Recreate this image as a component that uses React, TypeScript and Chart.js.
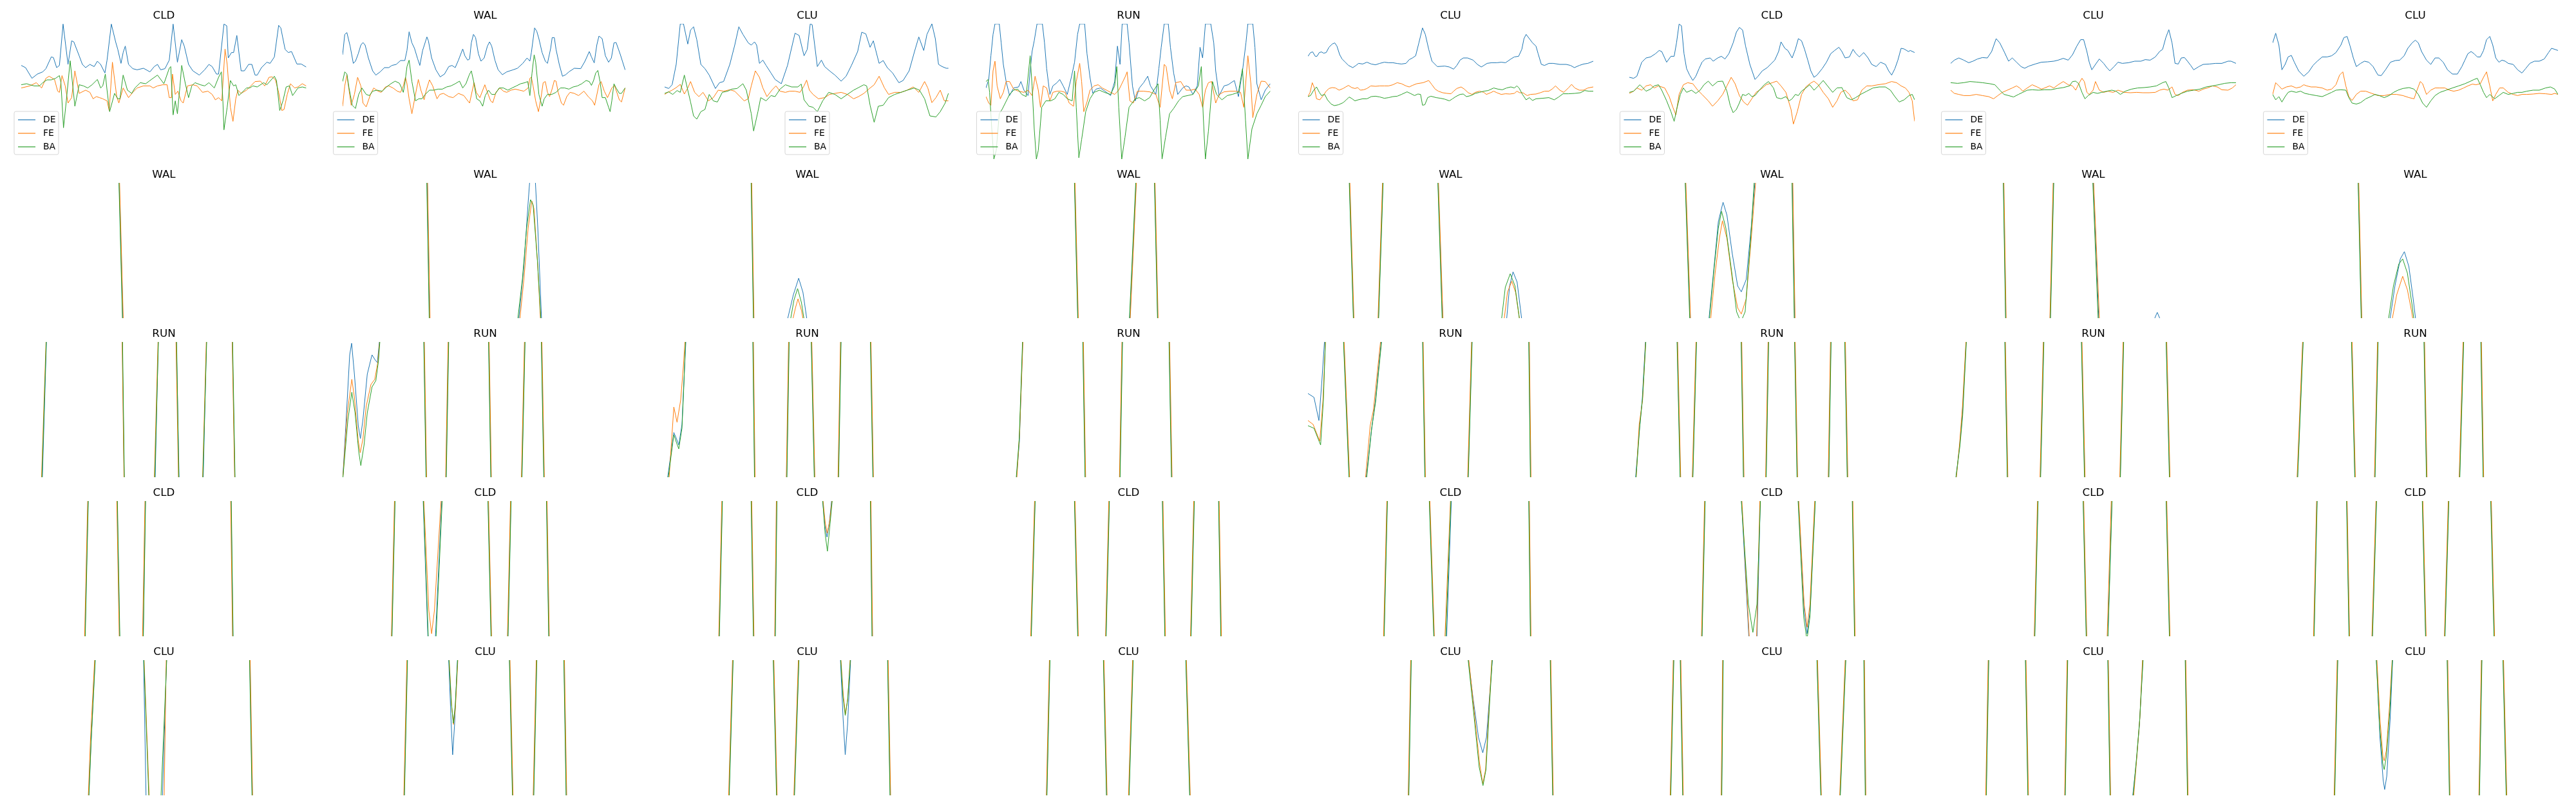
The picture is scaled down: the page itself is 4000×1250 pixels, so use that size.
import React, { useEffect, useRef } from "react";
import { Chart, registerables } from "chart.js";
Chart.register(...registerables);

type Pts = number[][];

const seriesNames = ["DE", "FE", "BA"];
const seriesColors = ["#1f77b4", "#ff7f0e", "#2ca02c"];
const topTitles = ["CLD", "WAL", "CLU", "RUN", "CLU", "CLD", "CLU", "CLU"];
const walTitles = ["WAL", "WAL", "WAL", "WAL", "WAL", "WAL", "WAL", "WAL"];
const runTitles = ["RUN", "RUN", "RUN", "RUN", "RUN", "RUN", "RUN", "RUN"];
const cldTitles = ["CLD", "CLD", "CLD", "CLD", "CLD", "CLD", "CLD", "CLD"];
const cluTitles = ["CLU", "CLU", "CLU", "CLU", "CLU", "CLU", "CLU", "CLU"];

const X_MIN = 0;
const X_MAX = 133;
const Y_MIN = 0;
const Y_MAX = 105;

// ---------------- Row 1 ----------------
const r0c0DE: Pts = [[0,72.7],[2,71],[5,62.7],[7.5,66],[10,67.7],[11.5,70.2],[14,79.3],[15,78.8],[16.5,71],[17.8,72.7],[19.5,104.8],[21.8,73.5],[23.5,91.8],[24.5,91],[27,80.2],[28.5,73.5],[30,71],[32,73.5],[34,71.8],[35.5,76],[37,73.5],[39,66.8],[40,76.8],[42,104.8],[44,91],[45,85.2],[46.5,74.3],[47.5,82.7],[48.5,87.7],[50,73.5],[52,70.2],[54,69.3],[57,70.5],[60,67.7],[62,71.8],[63.5,73.5],[65,69.3],[67,70.2],[69,76.8],[70.8,104.8],[72.8,75.2],[74.8,92.7],[76,87.7],[78,73.5],[80,68.5],[83,65.2],[85.5,69.3],[87.5,73.5],[89,71.8],[91,66],[92,66],[94.5,104.8],[95.8,103.5],[96.5,78.5],[98,82.7],[99,82.7],[100.5,96],[102.5,68.5],[104,68.5],[106,73.5],[107.5,73.5],[109,65.2],[110,65.2],[112,71],[114.5,75.2],[116,74.3],[118,79.3],[120,103.8],[121,101.8],[123,85.2],[124.5,82.7],[126,83.5],[128.5,73.8],[130.5,73.8],[132.8,71.5]];
const r0c0FE: Pts = [[0,55.2],[4,56.8],[7,59.3],[9.5,55.2],[11.5,62.7],[13,64.3],[15.5,61.8],[17,52.7],[17.8,51.8],[19,64.8],[20.5,56.8],[21.8,43.5],[23.5,47.7],[25,68.5],[27,51],[30,53.5],[32,51.8],[33.5,46.8],[35,48.5],[36.5,47.7],[38,46.8],[40,45.2],[41,37.7],[42.5,75.2],[44.5,48.5],[45.5,43.5],[47.5,55.2],[50,47.7],[52,51.8],[54,55.2],[57,56.8],[60,56.8],[61.5,55.2],[63.5,56.8],[66,57.7],[68,57.7],[69,47.7],[70,47.7],[70.5,66],[71.8,50.2],[73,52.7],[74.5,45.2],[75.5,43.5],[77.5,56.8],[80,57.7],[82,56.8],[84.5,51.8],[87,52.7],[89,50.2],[90.5,46],[92,47.7],[93.5,45.2],[95,85.5],[96,73.5],[97.5,40.2],[98.7,29.3],[100,46.8],[101,53.5],[102.5,51],[105,53.5],[107,56.8],[109,60.2],[111.5,60.5],[113.5,56.8],[115.5,63.5],[117,63.8],[118.5,61.5],[120,51.8],[121.5,37.7],[122.5,38.5],[124,50.2],[125.5,58.5],[127.5,55.2],[129,56],[131,58.5],[132.8,56.8]];
const r0c0BA: Pts = [[0,57.7],[2.5,58.5],[4,57.7],[6,56.8],[8.5,56.8],[10,59.3],[12,61.5],[14,61.5],[16,62.7],[17.8,64.8],[18.5,59.3],[19.7,24.3],[21,45.2],[22.8,76.3],[25,41],[27,57.7],[29,56.8],[31,55.2],[33,57.7],[35.5,61.8],[37,55.2],[38,56.8],[39.2,66],[40,53.5],[41.2,36.8],[43.5,51],[45,46.8],[46,46.8],[47.5,65.2],[49.5,53.5],[51.5,51],[53,55.2],[55.5,59.3],[58,58.5],[60,61],[63.5,65.2],[66.5,58.5],[69,70.5],[69.7,71.8],[70.8,34.3],[71.8,45.2],[72.8,35.2],[74,56.8],[74.8,72.7],[76.5,58.5],[78,47.7],[79.5,56.8],[81,59.3],[83.5,57.7],[85.5,56.8],[87.5,59.3],[90,55.2],[92,63.5],[93.3,67.7],[94,45.2],[94.5,22.7],[96,40.2],[97.5,61],[99,56.8],[100,57.7],[101.5,49.3],[103.5,52.7],[105,55.2],[106.5,55.2],[108,56.8],[110,56],[113,59.3],[114.5,57.7],[118,64.3],[119,61],[120.5,37.7],[122,45.2],[123.5,56],[125,56.8],[126.5,49.3],[129,55.2],[131,56],[132.8,55.2]];

const r0c1DE: Pts = [[0,81],[1,96.8],[2,98.2],[3.5,87.7],[5,74.3],[6,76],[7.3,81.8],[8.5,88.5],[9.5,90.5],[10.5,88.5],[12,78.5],[14,68.5],[15.5,65.2],[17.5,67.7],[19.5,71],[21.5,71],[23,72.7],[25,73.5],[27,76.5],[29,76.5],[30,84.3],[31,98.8],[32.3,90.2],[33.5,86],[35,77.7],[36,72.7],[37.3,84.3],[39.3,94.8],[40,91.8],[41.5,78.5],[43.5,69.3],[45.5,63.8],[47.5,66],[49.5,71.8],[51,72.7],[52.5,71],[54,76.8],[56,85.5],[57,80.2],[58.3,76.8],[59.2,77.7],[60,90.2],[61,96.8],[62,94.3],[63.3,81.8],[64.5,76],[66,78.5],[67.5,87.7],[68.5,91],[69.5,87.7],[71,76.8],[72.5,69.3],[74.5,65.5],[76.5,67.7],[79.5,69.3],[81.5,70.5],[84,74.3],[86,78.5],[87.3,76],[88,82.7],[89.5,101.8],[90.5,99.3],[91.5,93.5],[93,82.7],[94.5,76],[95.5,74.3],[97,86],[97.7,94.3],[98.7,94.3],[99.5,85.2],[101,73.5],[102.5,64.3],[104,65.5],[105.5,67.7],[108,70.5],[111,70.2],[113,76],[115,83.5],[116,79.3],[117.3,74.7],[118.5,88.5],[119.5,95.5],[121,93.5],[122.5,80.2],[124,75.2],[125.3,78.5],[126.5,90.2],[127.5,90.5],[129.5,81],[131.7,69.3]];
const r0c1FE: Pts = [[0,41],[1,56.8],[2,65.2],[3,53.5],[4,41.8],[5.5,50.2],[7,63.5],[8.5,56.8],[9.5,43.5],[11,40.5],[13,50.2],[14.5,55.2],[16.5,52.7],[18,51.8],[20,56],[21.5,56.8],[23.5,55.2],[25.5,52.7],[27,51.8],[28.3,56.8],[29.3,63.5],[30,58.5],[31,46.8],[32.3,35.2],[33.5,46],[35.3,61.8],[36.5,53.5],[38,46],[39,53.5],[40.5,61.5],[42,56.8],[44,46.8],[45.3,50.2],[47,51],[49.5,48.5],[51.5,47.7],[54,51],[56.5,49.3],[58,46],[59.2,43.5],[60.5,53.5],[61.3,59.3],[62.3,51.8],[64,47.7],[66.3,57.7],[67.5,51.8],[69,45.2],[70,43.8],[71.5,51.8],[73.3,55.2],[75,52.7],[76.5,51.8],[78.5,53.5],[80.5,54.3],[82.5,53.5],[84.5,52.7],[86.5,55.2],[87.3,62.7],[88,63.5],[88.8,56.8],[90,45.2],[91.3,36.8],[92.5,47.7],[93.5,59.3],[94.5,60.2],[95.5,51.8],[96.5,48.5],[97.5,53.5],[98.7,61],[99.5,60.5],[100.5,51.8],[102,43.5],[103,41.8],[104.5,48.5],[106,51.8],[108,51],[110,49.3],[112.5,52.7],[114.5,48.5],[116.5,45.2],[117.5,41.8],[119.5,57.7],[120.5,60.2],[122,52.7],[123.5,47.7],[125.5,55.2],[126.7,57.2],[128,51],[129,46],[130,44.3],[131.7,55.2]];
const r0c1BA: Pts = [[0,60.2],[1,67.7],[2,66],[3,55.2],[4.5,41.8],[6,39.3],[7.5,50.2],[9,55.2],[11,50.2],[12.5,49.3],[14,52.7],[16,53.5],[18.5,52.7],[20.5,56],[22.5,58.5],[24.5,60.5],[26.5,58.8],[27.5,55.2],[28.3,51.8],[29,58.5],[30,71.8],[31,76.8],[32.3,60.2],[34,45.2],[35.5,46.8],[37,46.8],[38.5,50.2],[40.5,53.5],[42.5,53.5],[44.5,54.3],[46.5,54.3],[48.5,56],[50.5,56.8],[52.5,58.5],[54.5,60.5],[56,55.2],[57.5,58.5],[59,65.2],[60,68.5],[61,61],[62.5,46.8],[64,45.2],[65.3,41],[66.5,49.3],[68,53.5],[69.5,50.2],[71,50.2],[73,55.2],[75,55.2],[77,53.5],[79,55.2],[81,56.8],[83,58.5],[85,59.3],[86.3,60.2],[87.3,49.3],[88.3,66.8],[89.3,81],[90,75.2],[91.5,50.2],[93,41],[94,46.8],[95.5,50.2],[97.5,50.2],[99.5,51.8],[101.5,55.2],[103.5,55.2],[105.5,54.3],[107.5,56],[109.5,56.8],[111.5,58.5],[113.5,61],[115,60.2],[116,57.2],[117,61],[118,66.8],[119,68.8],[120,60.2],[121,47.7],[122.5,47.7],[124,40.2],[124.7,36.8],[125.5,45.2],[126.5,58.5],[127.5,55.2],[129,51],[130,51],[131.7,55.2]];

const r0c2DE: Pts = [[0,56],[1.9,54.8],[3.5,57.7],[5.4,73.5],[7.3,105],[8.8,105],[10.8,89.3],[12.1,100.2],[13.5,102.7],[15,92.7],[16.9,73.5],[18.8,70.2],[20.8,65.2],[23.7,54.8],[25.6,59.3],[27.5,60.2],[30.4,73.5],[32.7,88.5],[34.6,102.7],[36.5,96.8],[39,90.2],[40.4,88.5],[41.9,91],[42.9,88.5],[44.2,74.3],[45.8,76.8],[47.3,72.7],[49.6,66.8],[51.5,61.8],[54.4,58.5],[57.3,72.7],[58.8,83.5],[60.8,97.7],[62.7,96],[65,80.2],[66.5,85.2],[67.9,105],[68.8,104.3],[71.2,71.8],[73.1,76.8],[74.6,71.8],[76.9,68.5],[79.4,65.2],[82.3,60.5],[84.6,64.3],[87.1,72.7],[90,83.5],[91.9,98.5],[93.8,97.2],[95.8,86.8],[97.3,91.8],[100,74.3],[101.9,76.5],[103.8,71],[106.3,66.8],[109.2,59.3],[111.2,61],[114,68.5],[116.5,83.5],[118.5,94.8],[120.8,84.3],[122.3,96.8],[124.6,105],[126.2,93.5],[127.7,73.5],[129.4,71.8],[131.3,70.5],[132.3,70.5]];
const r0c2FE: Pts = [[0,50.2],[1.5,51.8],[3.5,53.5],[5.4,55.5],[7.3,58],[9.2,50.5],[10.8,55.2],[12.1,60.2],[14,51.8],[16,48.5],[17.9,51.8],[20.4,45.2],[22.7,47.7],[25,53.5],[27.5,52.7],[30.4,53.8],[32.7,52.7],[35.2,48.5],[37.1,45.2],[39,46.8],[40.4,56.8],[42.3,68.5],[44.2,63.5],[45.8,55.2],[47.7,48.5],[50,53.5],[51.9,56.8],[53.8,52.7],[56.3,51.8],[58.3,52.7],[60.8,52.7],[63.1,51.8],[65,56.8],[66.2,61.3],[67.5,53.5],[69.2,50.2],[71.7,46.8],[74.6,47.7],[76.9,50.2],[79.4,51],[82.3,51.8],[85.2,50.2],[88.1,46.8],[90.4,48.5],[92.9,51],[95.8,55.2],[97.7,57.7],[100,64.3],[102.5,55.2],[104.4,50.2],[107.3,51.8],[110.2,51.8],[113.1,53.5],[115.9,56],[118.5,51.8],[121.2,60.2],[122.7,55.2],[124.6,43.8],[126.5,47.7],[128.5,53.5],[130.4,45.2],[132.3,45.2]];
const r0c2BA: Pts = [[0,51],[1.9,52.2],[3.8,50.2],[5.8,53.2],[7.3,51.8],[9.2,65.2],[10.8,53.5],[12.1,44.3],[13.5,33.5],[15,31],[16.9,36.8],[18.8,38.5],[20.8,50.2],[22.7,45.2],[24.6,44.3],[26.9,51.8],[29.4,52.7],[31.3,54.3],[33.8,54.8],[36.5,58.5],[38.1,53.5],[40.4,35.2],[41.5,21.8],[43.5,36.8],[44.8,47.7],[47.3,45.2],[49.6,49.3],[51.5,48.5],[53.8,54.3],[56.3,57.7],[59.2,56],[62.1,56],[63.7,58.2],[65,46],[67.3,41],[69.2,40.2],[71.2,36.8],[73.7,45.2],[76.5,51.8],[79.4,50.2],[82.3,46.8],[85.2,50.2],[88.1,53.5],[90.4,55.5],[92.9,57.7],[94.2,56.8],[95.8,41.8],[97.7,28.5],[99.6,41],[101.9,41.8],[104.4,47.7],[107.3,50.2],[110.2,51.8],[113.1,53.5],[116.5,55.2],[118.8,53.5],[121.2,46.8],[123.7,33.5],[126.5,32.7],[128.5,36.8],[130.8,43.5],[132.3,51]];

const r0c3DE: Pts = [[0,55.2],[1.3,61.8],[2.3,80.2],[3.3,96.8],[4.2,105],[6.2,105],[7.1,90.2],[8.1,73.5],[9.4,60.2],[11,49.3],[12.9,55.2],[15.2,56],[16.3,60.2],[17.7,53.5],[19.6,49.3],[20.6,68.5],[21.5,83.5],[22.5,91.8],[23.8,105],[26.3,105],[27.3,90.2],[28.3,70.2],[29.8,50.2],[31.2,56.8],[33.1,59.3],[34.4,61.8],[36,56.8],[37.9,50.2],[39.8,63.5],[41.3,75.2],[42.7,96.8],[43.7,105],[46,105],[47.1,81.8],[48.5,63.5],[49.8,51],[51.3,54.3],[53.3,55.2],[56.2,51.8],[58.1,49.3],[60,60.2],[61.3,87.7],[62.5,73.5],[63.5,105],[65.8,105],[66.7,90.2],[68.3,56.8],[69.6,45.2],[71.5,55.2],[73.5,59.3],[75.4,64.3],[76.7,56.8],[79.2,50.2],[80.6,70.2],[81.7,86.8],[83.1,105],[85,105],[86,86.8],[87.5,66.8],[89.4,50.2],[91.7,55.2],[93.3,56.8],[94.6,56],[96.5,50.2],[98.5,56.8],[99.8,86.8],[101,78.5],[102.3,105],[104.8,105],[106.2,90.2],[107.1,68.5],[108.7,49.3],[111,56.8],[112.9,57.7],[115.8,61],[117.7,48.5],[119.6,68.5],[121.2,90.2],[122.1,105],[124.4,105],[125.4,86.8],[126.3,58.5],[128.3,46],[130.2,53.5],[132.5,58.5]];
const r0c3FE: Pts = [[0,48.5],[1.3,43.5],[2.3,41.8],[3.3,68.5],[4.2,76],[5.2,56.8],[6.7,46.8],[8.1,51.8],[9.4,60.2],[11,60.2],[12.9,54.3],[15.2,52.7],[17.7,51.8],[19.6,53.5],[21.5,49.3],[22.9,64.3],[24.4,53.5],[25.4,40.2],[26.7,56.8],[28.3,55.2],[29.8,45.2],[31.2,51.8],[33.1,52.7],[35,52.7],[36.9,51.8],[38.8,43.5],[40.8,41],[42.1,60.2],[43.7,74.3],[44.6,60.2],[45.6,36.8],[47.1,44.3],[48.5,53.5],[50.4,56.8],[52.3,57.7],[54.2,55.2],[56.2,53.5],[58.1,51.8],[60,50.2],[61.9,53.5],[64.8,63.5],[65.8,67.7],[67.1,45.2],[68.7,43.5],[70.6,52.7],[73.5,52.7],[76.3,52.2],[79.2,50.2],[81.2,40.2],[83.1,73.5],[84,71.8],[85.6,53.5],[86.9,46.8],[88.5,59.3],[90.8,60.2],[93.3,53.5],[95.6,53.5],[97.5,54.3],[99.4,50.2],[101,40.2],[102.3,53.5],[103.7,59.3],[105.2,60.2],[107.1,43.5],[108.7,50.2],[111,52.2],[113.8,52.7],[116.7,52.7],[118.7,51.8],[120.2,40.2],[122.1,80.2],[123.5,58.5],[124.4,32.2],[126.3,50.2],[128.3,60.5],[130.2,60.2],[132.5,55.2]];
const r0c3BA: Pts = [[0,60.2],[1,61.8],[1.7,51.8],[2.7,23.5],[3.7,0],[4.8,6.8],[6.2,35.2],[7.5,38.5],[9,43.5],[11,50.2],[12.9,53.5],[14.8,54.3],[16.7,50.2],[18.7,48.5],[20.6,80.2],[21.5,56.8],[22.5,23.5],[23.5,0],[24.4,6.8],[26,40.2],[27.9,45.2],[30.2,45.2],[32.1,46.8],[34,51.8],[36,50.2],[37.9,46.8],[40.2,45.2],[41.3,68.5],[42.1,40.2],[43.3,1],[44.6,15.2],[46.5,36.8],[48.5,46.8],[50.4,51.8],[52.9,53.5],[55.2,51.8],[58.1,50.2],[60,56.8],[61,71.8],[61.9,40.2],[63.3,0],[64.8,16.8],[66.7,40.2],[69.6,46.8],[71.5,47.7],[74,45.2],[76.3,47.7],[78.3,53.5],[80.2,58.5],[81.2,30.2],[82.1,0],[83.7,16.8],[85.6,35.2],[87.5,39.3],[89.8,45.2],[91.7,48.5],[94,49.3],[96.5,50.2],[99,56.8],[100.4,71.8],[101.3,33.5],[102.3,0],[103.7,21.8],[105.6,60.2],[107.5,50.2],[110,46],[112.5,49.3],[114.8,50.2],[117.7,51.8],[119.6,70.2],[121,30.2],[122.1,0],[124,23.5],[126.3,35.2],[128.3,41.8],[130.2,48.5],[132.5,52.7]];

const r0c4DE: Pts = [[0,79.8],[1.2,82.7],[2.2,83.2],[3.4,79.8],[4.2,79.8],[5.3,82.7],[6.3,83.2],[7.3,82.2],[8.5,82.7],[9.8,86.8],[11.3,89.3],[12.5,90.2],[13.5,87.7],[14.8,81],[15.9,77.7],[17.4,75.2],[18.9,72.7],[20.9,71],[22.4,72.7],[23.6,74.3],[25.5,73.8],[27.5,75.2],[29.5,73.8],[31.5,73.2],[33.5,74.3],[35.6,75.2],[37.6,74.8],[39.6,74.8],[41.6,74.2],[43.6,73.8],[45.7,74.3],[47.2,77.2],[48.7,78.5],[50.2,80.2],[51.7,90.2],[53.4,101.8],[54.7,96.8],[56.3,85.2],[57.8,76],[60.3,71.8],[63.8,72.2],[65.9,71.5],[67.9,69.8],[69.4,72.7],[70.9,76.8],[72.4,78.5],[74.4,78.5],[77,76.8],[79,73.5],[80.8,71.5],[82,72.7],[83.5,74.3],[85.6,74.8],[88.1,74.8],[90.1,75.2],[92.1,74.8],[94.6,77.7],[96.2,79.3],[98.2,79.8],[99.7,85.2],[100.7,93.5],[101.7,96.8],[103.2,93.5],[104.7,90.2],[106.3,87.7],[107.3,81.8],[108.8,73.5],[110.3,72.7],[112.3,74.3],[114.3,74.3],[117.4,73.5],[120.4,73.5],[122.4,72.7],[124.2,71],[126.5,72.7],[128.5,73.8],[130.5,74.3],[133,76]];
const r0c4FE: Pts = [[0,48.5],[1,51.8],[2,59.3],[3,55.2],[4,46.8],[5.5,46],[7.1,49.3],[8.5,52.7],[9.8,54.8],[11.3,55.5],[12.8,55.2],[14.5,53.5],[16.4,54.8],[17.6,56],[18.9,57.2],[20.4,55.5],[21.9,54.8],[23.2,55.5],[24.4,53.5],[26,53.8],[27.5,54.8],[29.3,56.8],[31.5,56.5],[33.5,56.8],[35.6,56.8],[37.6,56.8],[39.6,57.7],[41.6,59.3],[43.6,58.5],[45.7,56.8],[47.2,56],[48.7,57.2],[50.7,58.5],[53.7,59.3],[56.3,61],[57.8,57.7],[59.3,54.3],[60.8,52.7],[62.8,51.5],[64.8,51],[66.7,50.7],[67.9,52.7],[69.4,54.8],[71.4,56],[72.9,54.3],[74.7,51.5],[76.5,50.2],[78,51.8],[80,52.7],[82,51.8],[83.2,50.2],[85.1,51.5],[86.6,52.7],[88.1,51.5],[90.1,50.2],[92.1,50.7],[94.1,50.5],[96.2,51],[97.4,52.7],[98.7,51.5],[100.2,51.5],[102.2,49.3],[103.7,50.2],[106.3,50.5],[108.3,51.5],[110.3,52.7],[112.3,52.7],[113.8,54.3],[115.4,56.8],[117.4,53.5],[119.2,51.8],[121.4,55.2],[122.9,58],[124.4,55.2],[126.5,53.5],[128.5,53.5],[130.5,55.2],[133,56]];
const r0c4BA: Pts = [[0,48.5],[1.2,49.3],[2.7,53.5],[4,56],[5.3,51.8],[6.3,49.3],[7.8,50.2],[9.1,46],[10.8,42.7],[12.3,41.5],[14.3,42.2],[16.4,43.8],[17.9,46],[19.2,48.2],[20.6,46.8],[21.9,45.2],[23.4,46],[25.5,46.8],[27.5,46.8],[29.5,48.5],[31.5,48.8],[33.5,48.2],[35.6,47.2],[37.6,47.7],[39.6,48.5],[41.6,48.8],[43.6,50.2],[46.2,52.2],[47.7,51],[49.7,49.3],[51.2,50.5],[52.5,50.2],[53.4,41.8],[54.5,42.2],[55.8,47.7],[57.3,48.8],[59.8,47.7],[61.8,47.2],[63.8,46.5],[65.9,45.2],[67.4,46.8],[68.9,48.5],[70.9,50.2],[72.4,50.5],[73.9,48.5],[76,49.3],[78,51],[80,51.8],[82,52.7],[84,53.2],[86.6,55.2],[88.6,54.3],[90.6,53.8],[92.6,55.2],[94.6,56],[96.2,55.2],[97.4,56.8],[98.4,55.2],[100,50.2],[101.7,46],[103.2,47.7],[104.7,45.5],[106.3,46.8],[109.3,47.2],[112.3,47.7],[114.8,46],[116.9,48.2],[118.9,50.7],[121.4,50.7],[124.4,51],[127,51.5],[129,53.2],[131,52.7],[133,52.7]];

const r0c5DE: Pts = [[0,63.5],[2,62.7],[3.5,64.3],[5.8,75.2],[7.8,78.5],[9.9,79.3],[12.2,81.8],[13.9,84.3],[15.1,83.5],[17.4,75.2],[19.4,79.8],[20.9,79.8],[22,90.2],[23.2,104.8],[24.3,103.5],[25.5,81.8],[26.7,70.2],[28.1,65.2],[29.6,61],[31,64.3],[32.5,70.2],[33.9,75.2],[35.4,77.7],[37.7,78.5],[39.1,76],[41.2,78.5],[42.9,79.8],[44.6,77.7],[46.4,81.8],[48.4,90.2],[49.9,98.5],[51.3,102.2],[52.8,100.2],[54.2,87.7],[56.2,73.5],[58.6,61.8],[60,64.3],[62,68.5],[64.3,71],[65.8,73.5],[67.8,76.8],[69.6,83.5],[70.7,91],[72.5,86],[73.9,84.3],[75.9,78.5],[77.4,85.2],[78.8,93.5],[80.3,91.8],[81.7,85.2],[83.2,76.8],[84.6,68.5],[86.1,63.5],[87.5,65.2],[89.9,70.2],[91.9,75.2],[93.9,81.8],[95.7,84.3],[97.7,86.8],[99.1,83.5],[100.6,78.5],[102.6,79.3],[104.3,85.2],[105.5,82.2],[107.2,79.3],[109.3,82.7],[111.3,78.5],[113,73.5],[115.1,71.8],[117.1,75.2],[119.4,73.5],[120.9,68.5],[122.3,65.2],[123.8,70.2],[125.2,76.8],[126.7,86],[128.1,85.5],[130.1,83.5],[131,84.3],[133,82.7]];
const r0c5FE: Pts = [[0,51],[2,52.7],[3.5,55.2],[5.8,53.5],[7.8,56.8],[9.9,57.7],[11.6,55.2],[13.6,56.8],[16.5,55.2],[18.6,48.5],[20.3,40.2],[21.7,34.3],[23.2,50.2],[25.2,57.7],[27.2,59.3],[29.6,58.5],[31.9,53.5],[33.9,50.2],[36.8,45.2],[38.8,41],[41.2,45.2],[43.5,50.2],[45.5,56.8],[47.5,63.5],[49.3,58.5],[51.3,49.3],[53.3,44.3],[55.1,41.8],[57.1,46.8],[59.1,51.8],[61.4,54.3],[63.8,57.7],[66.7,59.3],[68.7,60.5],[70.7,56.8],[73,51.8],[75.4,38.5],[76.5,27.2],[78.3,36.8],[80.3,50.2],[82.3,56],[84.1,58.5],[86.1,60.5],[88.1,57.7],[90.4,51.8],[92.8,46.8],[94.8,40.2],[96.8,45.2],[98.6,51.8],[100.6,53.5],[102.6,50.2],[104.3,45.2],[106.4,46],[108.4,53.5],[110.7,56.8],[113,56.8],[115.9,57.7],[119.4,58.5],[122.3,60.2],[124.6,59.3],[126.7,56.8],[128.7,55.2],[130.4,51.8],[131.9,45.2],[133,29.3]];
const r0c5BA: Pts = [[0,51.8],[2,52.7],[3.5,55.2],[4.9,57.7],[6.4,55.2],[7.8,52.7],[9.9,54.3],[11.6,56.8],[13.6,57.7],[15.1,53.5],[17.4,45.2],[19.4,36.8],[20.9,29.3],[22.3,40.2],[23.8,50.2],[25.2,55.2],[26.7,51.8],[29,53.5],[31,51],[33,53.5],[34.8,57.7],[36.8,60.5],[38.8,56.8],[41.2,60.2],[43.5,60.5],[45.5,52.7],[47,41.8],[48.4,36],[49.9,38.5],[51.3,43.5],[52.8,50.2],[54.2,49.3],[55.7,51],[57.1,48.5],[58.6,49.3],[60.6,53.5],[62.9,57.7],[64.9,60.2],[67.2,55.2],[68.7,47.7],[70.7,46.8],[73,48.5],[74.5,45.2],[75.9,46.8],[77.4,50.2],[78.8,49.3],[80.3,52.7],[82.3,55.2],[84.1,57.7],[86.1,53.5],[88.1,56.8],[90.4,61],[92.8,56],[94.8,51.8],[96.8,55.2],[99.1,55.5],[101.4,47.7],[103.5,46],[105.5,47.7],[107.8,50.2],[110.7,52.7],[113.6,55.2],[116.5,56],[119.4,56],[121.7,53.5],[123.8,48.5],[125.8,44.3],[128.1,46],[130.4,49.3],[131.9,50.2],[133,46]];

const r0c6DE: Pts = [[0,74.3],[1.7,76.8],[3.8,78.5],[6.1,76.8],[8.4,74.8],[10.4,76],[12.5,77.7],[14.8,78.8],[17.1,78.5],[19.1,83.5],[21.2,93.5],[22.9,90.2],[24.9,83.5],[27,76],[28.7,78.5],[30.7,75.2],[32.8,71.8],[34.5,70.5],[36.5,72.2],[39.4,73.8],[42.3,75.2],[45.2,75.5],[48.1,76],[50.1,76.8],[52.5,78.2],[54.8,76.8],[56.8,81],[58.8,87.7],[60.6,92.7],[62,92.7],[63.5,83.5],[64.6,75.2],[65.8,69.3],[67.5,73.5],[69.3,77.7],[71.3,74.3],[72.8,71],[74.2,68.5],[76.2,71.8],[78,75.2],[80,74.3],[82.9,74.8],[85.8,76],[88.7,76],[90.7,77.2],[93,76.8],[95.4,79.3],[97.4,83.5],[98.8,85.2],[100.3,94.3],[101.7,100.5],[103.2,90.2],[104.6,74.3],[106.1,73.8],[107.5,78.5],[109,78.8],[110.4,76],[111.9,72.7],[113.3,69.3],[115.7,71.8],[117.7,73.5],[120.6,73.8],[123.5,74.3],[126.4,74.3],[129.3,76],[130.7,76],[133,74.3]];
const r0c6FE: Pts = [[0,53.5],[1.7,51],[3.8,50.2],[6.1,49.3],[9,49.3],[11.9,50.2],[14.8,49.3],[17.7,48.5],[20,46.8],[22,49.3],[24.1,51.8],[26.4,53.5],[28.7,55.2],[30.7,56.8],[32.2,55.2],[33.6,52.7],[35.7,55.2],[38,57.7],[40.3,56],[42.3,54.3],[43.8,55.2],[46.1,56.8],[48.1,55.2],[50.1,57.7],[52.5,60.2],[54.8,57.7],[56.8,56.8],[58.3,53.5],[59.7,58.5],[61.2,62.7],[62.3,60.2],[63.5,51.8],[64.6,50.2],[66.4,53.5],[67.5,60.2],[69.3,53.5],[71.3,51.8],[73.3,52.7],[75.7,51.8],[78,53.5],[80.9,51.8],[83.8,51.5],[86.7,51.8],[89.6,51.5],[92.5,51.5],[95.4,51.8],[97.4,53.5],[99.4,54.3],[101.2,53.5],[103.2,56],[104.6,50.2],[106.1,49.3],[108.1,51.8],[110.4,53.5],[113.3,53.8],[115.7,52.7],[117.7,54.3],[119.7,55.2],[122,56.8],[124.3,56],[126.4,53.8],[129.3,53.5],[131.3,55.2],[133,57.7]];
const r0c6BA: Pts = [[0,59.3],[3.2,58.8],[6.1,59.3],[9,60.2],[11.9,59.8],[14.8,59.3],[18.3,58.5],[20.6,57.7],[22.9,53.5],[24.9,50.2],[27,49.3],[29.3,48.2],[31.6,50.2],[33.6,51.8],[35.7,53.5],[38,53.8],[40.9,53.5],[43.8,53.8],[46.7,53.8],[49.6,54.8],[52.5,55.5],[55.4,56.8],[56.8,60.2],[58.3,60.5],[59.7,58.5],[61.2,51.8],[62.6,46.8],[64.1,49.3],[66.4,51.8],[68.4,51],[70.4,51.8],[72.8,52.7],[75.1,53.5],[77.1,52.7],[79.1,50.2],[81.4,52.7],[84.3,54.3],[87.2,55.2],[90.1,55.5],[93,56],[95.9,56.8],[98.8,59.3],[100.3,60.2],[101.7,55.2],[103.2,47.7],[105.2,49.3],[107.5,51],[110.4,52.7],[113.3,53.5],[116.2,54.3],[119.1,56],[122,56.8],[124.9,57.7],[127.8,58.8],[130.7,59.3],[133,59.3]];

const r0c7DE: Pts = [[0,90.2],[1.4,97.7],[2.9,88.5],[4.3,69.3],[5.8,73.5],[7.2,79.3],[8.7,80.5],[10.1,75.2],[12.1,68.5],[14.5,64.3],[16.8,67.7],[18.8,72.7],[20.8,76],[23.1,79.3],[25.4,79.3],[27.5,80.2],[29.5,82.7],[31.8,88.5],[33.2,94.3],[34.7,95.2],[36.1,87.7],[37.6,78.5],[39,71.8],[41,74.3],[42.8,76],[44.8,75.2],[46.8,71.8],[49.1,65.2],[50.6,64.8],[52.6,69.3],[54.9,75.2],[57.2,76.5],[59.2,76.8],[61.3,80.2],[63,86],[65,90.2],[66.5,92.3],[67.9,90.2],[69.4,83.5],[71.7,76.8],[73.7,73.5],[75.7,78.5],[77.5,78.5],[79.5,75.2],[81.5,69.3],[83.8,66],[86.1,66],[88.2,71.8],[89.6,76.8],[91,81.8],[92.5,83.5],[93.9,81.8],[95.4,79.3],[96.8,79.3],[98.3,84.3],[99.7,92.7],[101.2,95.2],[102.6,88.5],[104,78.5],[105.5,75.2],[106.9,76.8],[108.4,76],[109.8,74.3],[112.1,73.5],[114.2,69.3],[116.2,66.8],[117.9,70.2],[119.9,74.3],[122,76],[124.3,76],[126.6,77.7],[128.6,82.7],[130,86],[131.5,85.2],[133,84.3]];
const r0c7FE: Pts = [[0,50.2],[1.4,59.3],[2.9,56.8],[4.3,54.3],[6.4,56],[8.7,56.8],[11,55.2],[13,56],[14.5,57.7],[15.9,56.8],[17.9,56],[20.2,56],[23.1,55.2],[25.4,53.5],[27.5,54.3],[29.5,57.7],[31.2,65.2],[32.7,67.7],[34.1,56.8],[35.5,48.5],[37,45.5],[39,50.2],[41,52.7],[43.4,52.7],[46.2,51],[49.1,49.3],[52,49.3],[54.9,50.2],[57.8,50.2],[60.7,49.3],[63.6,47.7],[65.9,46.8],[67.3,53.5],[68.8,60.2],[69.9,58.5],[71.7,50.2],[73.7,53.5],[75.7,55.2],[78,55.2],[80.3,55.2],[82.4,53.5],[84.4,52.7],[86.7,53.5],[89,55.2],[91,56.8],[93.1,58.2],[94.8,57.7],[96.8,58.5],[98.3,63.5],[99.7,67.7],[101.2,56.8],[102.6,45.2],[104,50.2],[105.8,55.2],[107.5,55.2],[109.8,51.8],[112.1,50.2],[114.2,49.3],[116.2,50.2],[118.5,50.2],[121.4,50.5],[124.3,51],[127.2,50.7],[130,50.2],[131.5,51],[133,50.2]];
const r0c7BA: Pts = [[0,50.2],[1.4,46],[2.9,48.5],[4.3,44.3],[5.8,48.5],[7.2,51.8],[8.7,52.7],[11,51.8],[13,52.7],[15,51],[17.3,50.2],[20.2,49.3],[23.1,48.5],[25.4,50.2],[27.5,51.8],[29.5,53.5],[31.8,53.8],[34.1,53.5],[35.5,47.7],[37,43.5],[39,42.7],[41,43.8],[43.4,46.8],[45.7,48.5],[47.7,50.2],[49.7,49.3],[52,47.7],[54.3,49.3],[56.4,51.8],[58.4,53.5],[60.7,54.8],[63.6,55.5],[65.9,54.3],[67.9,50.2],[69.9,43.5],[71.7,40.2],[73.7,45.2],[75.7,49.3],[78,51.8],[80.9,53.5],[83.8,55.2],[86.7,56.8],[89.6,58.5],[91.9,60.2],[93.9,61.8],[95.4,62.7],[96.8,57.7],[98.3,51.8],[99.7,47.7],[101.2,50.2],[103.5,46.8],[105.5,49.3],[107.5,51.8],[109.8,50.2],[112.1,51],[114.2,51.8],[116.2,51.8],[118.5,52.7],[121.4,53.5],[124.3,53.5],[127.2,55.2],[129.5,56],[131.5,54.3],[133,50.2]];

// ---------------- Row 2 (WAL) ----------------
const r1c0DE: Pts = [[0,108],[45.6,108],[47.4,-3],[133,-3]];
const r1c0FE: Pts = [[0,108],[45.8,108],[47.6,-3],[133,-3]];
const r1c0BA: Pts = [[0,108],[45.5,108],[47.2,-3],[133,-3]];
const r1c1DE: Pts = [[0,108],[39.4,108],[40.6,-3],[82,-3],[84.5,40],[86.5,90],[87.3,108],[89.8,108],[91,70],[92.8,-3],[133,-3]];
const r1c1FE: Pts = [[0,108],[39.6,108],[40.8,-3],[82.5,-3],[84.5,30],[86.5,70],[88.2,91],[89.2,85],[91,40],[92.3,-3],[133,-3]];
const r1c1BA: Pts = [[0,108],[39.2,108],[40.4,-3],[81.5,-3],[83.8,30],[85.8,70],[87.6,92],[88.8,88],[90.8,45],[92.5,-3],[133,-3]];
const r1c2DE: Pts = [[0,108],[40.4,108],[41.5,-3],[57,-3],[60,18],[62.5,31],[64.5,20],[66.5,-3],[133,-3]];
const r1c2FE: Pts = [[0,108],[40.6,108],[41.7,-3],[59.5,-3],[61,8],[62.2,15],[63.8,6],[64.8,-3],[133,-3]];
const r1c2BA: Pts = [[0,108],[40.3,108],[41.4,-3],[58.5,-3],[60.3,14],[62,23],[63.8,12],[65.2,-3],[133,-3]];
const r1c3DE: Pts = [[0,108],[41.3,108],[42.9,-3],[67,-3],[70.1,108],[78.6,108],[80.1,-3],[133,-3]];
const r1c3FE: Pts = [[0,108],[41.5,108],[43.1,-3],[67.2,-3],[70.2,108],[78.8,108],[80.3,-3],[133,-3]];
const r1c3BA: Pts = [[0,108],[41.2,108],[42.8,-3],[66.8,-3],[69.9,108],[78.5,108],[80,-3],[133,-3]];
const r1c4DE: Pts = [[0,108],[19.3,108],[21.3,-3],[32.8,-3],[35,108],[60.6,108],[62.8,-3],[92.5,-3],[94,25],[95.6,36],[97.5,28],[99.8,-3],[133,-3]];
const r1c4FE: Pts = [[0,108],[19.5,108],[21.5,-3],[32.6,-3],[34.8,108],[60.8,108],[63,-3],[91.3,-3],[93,20],[95,28.7],[96.8,20],[98.8,-3],[133,-3]];
const r1c4BA: Pts = [[0,108],[19.2,108],[21.2,-3],[32.9,-3],[35.1,108],[60.5,108],[62.6,-3],[90.1,-3],[92,24],[94.3,34.5],[96.5,25],[98.8,-3],[133,-3]];
const r1c5DE: Pts = [[0,108],[26.1,108],[28.4,-3],[37,-3],[39.5,40],[41.5,75],[43.7,90],[45.5,80],[48,50],[50.5,25],[52.2,20.4],[54.5,30],[56.8,70],[58.7,108],[76,108],[77.1,-3],[133,-3]];
const r1c5FE: Pts = [[0,108],[26.3,108],[28.6,-3],[37.8,-3],[40,35],[42,62],[43.4,75.6],[45.5,62],[48,30],[50.5,8],[52.2,3.2],[54.5,15],[57,65],[59,108],[76.2,108],[77.3,-3],[133,-3]];
const r1c5BA: Pts = [[0,108],[26,108],[28.2,-3],[37.2,-3],[39.5,38],[41.5,70],[43,83],[45,70],[47.8,35],[50,5],[52,-3],[54,5],[56.5,60],[58.3,108],[75.8,108],[76.9,-3],[133,-3]];
const r1c6DE: Pts = [[0,108],[24.6,108],[25.7,-3],[46.4,-3],[48,108],[66.4,108],[69.1,-3],[94.4,-3],[96.3,4.5],[98.2,-3],[133,-3]];
const r1c6FE: Pts = [[0,108],[24.8,108],[25.9,-3],[46.2,-3],[47.8,108],[66.6,108],[69.4,-3],[133,-3]];
const r1c6BA: Pts = [[0,108],[24.5,108],[25.6,-3],[46.5,-3],[48.1,108],[66.2,108],[68.8,-3],[133,-3]];
const r1c7DE: Pts = [[0,108],[39.9,108],[41.4,-3],[54.5,-3],[57,25],[59.5,46],[61.4,51.6],[63.5,40],[65.5,15],[66.8,-3],[133,-3]];
const r1c7FE: Pts = [[0,108],[40.1,108],[41.6,-3],[55.5,-3],[57.8,18],[60.6,32.5],[62.8,22],[64.8,5],[65.5,-3],[133,-3]];
const r1c7BA: Pts = [[0,108],[39.8,108],[41.3,-3],[53.8,-3],[56.3,25],[58.8,42],[60.6,46],[62.8,35],[65,10],[66,-3],[133,-3]];

// ---------------- Row 3 (RUN) ----------------
const r2c0DE: Pts = [[0,-3],[9.8,-3],[11.8,108],[47.1,108],[48,-3],[62.4,-3],[63.9,108],[72.3,108],[73.6,-3],[84.8,-3],[86.4,108],[98.4,108],[99.6,-3],[133,-3]];
const r2c0FE: Pts = [[0,-3],[9.4,-3],[11.6,108],[47,108],[47.9,-3],[62,-3],[63.8,108],[72.1,108],[73.3,-3],[84.5,-3],[86.3,108],[98.3,108],[99.5,-3],[133,-3]];
const r2c0BA: Pts = [[0,-3],[9.6,-3],[11.7,108],[47.2,108],[48.1,-3],[62.2,-3],[64,108],[72.4,108],[73.5,-3],[84.6,-3],[86.5,108],[98.5,108],[99.7,-3],[133,-3]];
const r2c1DE: Pts = [[0,-3],[1.5,40],[3.3,95],[4.2,104],[5.5,80],[7.3,40],[8.3,30],[9.5,45],[11.5,80],[13.7,95],[15.2,91],[16.2,89],[17.3,108],[37.9,108],[39,-3],[48.2,-3],[49.4,108],[68.1,108],[69.2,-3],[83.5,-3],[85,108],[92.7,108],[93.9,-3],[133,-3]];
const r2c1FE: Pts = [[0,-3],[2.2,50],[4.3,76],[5.5,62],[7.3,28],[8.2,19],[9.5,30],[11,55],[13.2,72],[15,76],[16.5,90],[17.4,108],[38.1,108],[39.2,-3],[48,-3],[49.2,108],[68.3,108],[69.4,-3],[83.3,-3],[84.8,108],[92.9,108],[94.1,-3],[133,-3]];
const r2c1BA: Pts = [[0,-3],[2.5,45],[4.3,66],[5.8,50],[7.5,20],[8.5,9],[10,25],[11.5,50],[13.7,70],[15.5,75],[16.7,90],[17.5,108],[37.8,108],[38.9,-3],[48.3,-3],[49.5,108],[68,108],[69.1,-3],[83.6,-3],[85.1,108],[92.6,108],[93.8,-3],[133,-3]];
const r2c2DE: Pts = [[0,-3],[1.2,-3],[4.3,34.7],[5.5,30],[6.6,25],[8.1,41],[9,75],[10,108],[41.2,108],[42,-3],[56.9,-3],[58,108],[68.4,108],[69.9,-3],[81,-3],[82.2,108],[96,108],[97.2,-3],[133,-3]];
const r2c2FE: Pts = [[0,-3],[2,-3],[4.3,54.5],[5.8,42.7],[7.5,60],[8.7,85],[9.6,108],[41.4,108],[42.2,-3],[56.7,-3],[57.8,108],[68.6,108],[70.1,-3],[80.8,-3],[82,108],[96.2,108],[97.4,-3],[133,-3]];
const r2c2BA: Pts = [[0,-3],[1.5,-3],[4.3,33],[5.5,27],[6.6,22],[8.1,38],[9,72],[9.8,108],[41.1,108],[41.9,-3],[57,-3],[58.1,108],[68.3,108],[69.8,-3],[81.1,-3],[82.3,108],[95.9,108],[97.1,-3],[133,-3]];
const r2c3DE: Pts = [[0,-3],[14.1,-3],[15.6,28],[17.2,108],[45.2,108],[46.3,-3],[62.4,-3],[63.6,108],[85.4,108],[86.6,-3],[133,-3]];
const r2c3FE: Pts = [[0,-3],[14.3,-3],[15.7,35],[17.3,108],[45.4,108],[46.5,-3],[62.2,-3],[63.4,108],[85.6,108],[86.8,-3],[133,-3]];
const r2c3BA: Pts = [[0,-3],[14,-3],[15.5,30],[17.1,108],[45.1,108],[46.2,-3],[62.5,-3],[63.7,108],[85.3,108],[86.5,-3],[133,-3]];
const r2c4DE: Pts = [[0,65],[2.8,62],[5.1,44],[6.5,75],[7.8,108],[16.6,108],[19.3,-3],[27,-3],[29.5,35],[31.5,60],[34.3,108],[53.5,108],[54.6,-3],[74.6,-3],[76.5,108],[103,108],[103.8,-3],[133,-3]];
const r2c4FE: Pts = [[0,44],[2.4,41],[5.5,28],[7,60],[8.2,108],[16.8,108],[19.5,-3],[26.7,-3],[29,40],[30.5,52],[34,108],[53.7,108],[54.8,-3],[74.4,-3],[76.3,108],[103.2,108],[104,-3],[133,-3]];
const r2c4BA: Pts = [[0,40],[2.8,38],[5.9,25],[7.2,60],[8.2,108],[16.5,108],[19.2,-3],[27.2,-3],[29.7,38],[31.5,58],[34.5,108],[53.4,108],[54.5,-3],[74.7,-3],[76.6,108],[102.9,108],[103.7,-3],[133,-3]];
const r2c5DE: Pts = [[0,-3],[2.8,-3],[4.6,35],[6,60],[7.6,108],[22.3,108],[23.8,-3],[29.5,-3],[31.3,108],[52.2,108],[53.3,-3],[63.7,-3],[64.9,108],[77.1,108],[78.3,-3],[92.9,-3],[94,108],[100.5,108],[101.7,-3],[133,-3]];
const r2c5FE: Pts = [[0,-3],[3.1,-3],[4.6,41],[6.2,60],[7.7,108],[22.5,108],[24,-3],[29.3,-3],[31.1,108],[52.4,108],[53.5,-3],[63.5,-3],[64.7,108],[77.3,108],[78.5,-3],[92.7,-3],[93.8,108],[100.7,108],[101.9,-3],[133,-3]];
const r2c5BA: Pts = [[0,-3],[3,-3],[4.8,38],[6.2,62],[7.8,108],[22.2,108],[23.7,-3],[29.6,-3],[31.4,108],[52.1,108],[53.2,-3],[63.8,-3],[65,108],[77,108],[78.2,-3],[93,-3],[94.1,108],[100.4,108],[101.6,-3],[133,-3]];
const r2c6DE: Pts = [[0,-3],[2.3,-3],[4.2,25],[5.5,50],[7.3,108],[25.3,108],[26.5,-3],[41.8,-3],[43.4,108],[61,108],[62.5,-3],[79,-3],[80.6,108],[100.5,108],[102.1,-3],[133,-3]];
const r2c6FE: Pts = [[0,-3],[2.5,-3],[4.2,27],[5.5,55],[7.2,108],[25.5,108],[26.7,-3],[41.6,-3],[43.2,108],[61.2,108],[62.7,-3],[78.8,-3],[80.4,108],[100.7,108],[102.3,-3],[133,-3]];
const r2c6BA: Pts = [[0,-3],[2.2,-3],[4.3,24],[5.6,48],[7.4,108],[25.2,108],[26.4,-3],[41.9,-3],[43.5,108],[60.9,108],[62.4,-3],[79.1,-3],[80.7,108],[100.4,108],[102,-3],[133,-3]];
const r2c7DE: Pts = [[0,-3],[11.5,-3],[14.2,108],[36.8,108],[38.4,-3],[47.6,-3],[49.1,108],[70.6,108],[71.8,-3],[87.1,-3],[89,108],[97.1,108],[98.2,-3],[133,-3]];
const r2c7FE: Pts = [[0,-3],[11.3,-3],[14,108],[37,108],[38.6,-3],[47.4,-3],[48.9,108],[70.8,108],[72,-3],[86.9,-3],[88.8,108],[97.3,108],[98.4,-3],[133,-3]];
const r2c7BA: Pts = [[0,-3],[11.6,-3],[14.3,108],[36.7,108],[38.3,-3],[47.7,-3],[49.2,108],[70.5,108],[71.7,-3],[87.2,-3],[89.1,108],[97,108],[98.1,-3],[133,-3]];

// ---------------- Row 4 (CLD) ----------------
const r3c0DE: Pts = [[0,-3],[29.7,-3],[31.2,108],[44.7,108],[45.9,-3],[56.8,-3],[57.9,108],[97.8,108],[98.7,-3],[133,-3]];
const r3c0FE: Pts = [[0,-3],[29.5,-3],[31,108],[44.5,108],[45.7,-3],[56.5,-3],[57.7,108],[97.6,108],[98.5,-3],[133,-3]];
const r3c0BA: Pts = [[0,-3],[29.8,-3],[31.3,108],[44.8,108],[46,-3],[56.9,-3],[58,108],[97.9,108],[98.8,-3],[133,-3]];
const r3c1DE: Pts = [[0,-3],[22.9,-3],[24.4,108],[37.5,108],[39.8,-3],[43.2,-3],[46.3,108],[67.8,108],[69.3,-3],[77,-3],[78.5,108],[95.1,108],[96.2,-3],[133,-3]];
const r3c1FE: Pts = [[0,-3],[22.7,-3],[24.2,108],[37.8,108],[40.2,20],[41.5,2],[42.8,20],[46,108],[68,108],[69.5,-3],[76.8,-3],[78.3,108],[95.3,108],[96.4,-3],[133,-3]];
const r3c1BA: Pts = [[0,-3],[23,-3],[24.5,108],[37.6,108],[40,-3],[43.5,-3],[46.5,108],[67.7,108],[69.2,-3],[77.1,-3],[78.6,108],[95,108],[96.1,-3],[133,-3]];
const r3c2DE: Pts = [[0,-3],[25.4,-3],[26.9,108],[40.4,108],[41.5,-3],[51.5,-3],[52.3,108],[73.5,108],[74.8,85],[75.7,77],[76.8,88],[78,108],[96,108],[96.8,-3],[133,-3]];
const r3c2FE: Pts = [[0,-3],[25.2,-3],[26.7,108],[40.6,108],[41.7,-3],[51.3,-3],[52.1,108],[73.7,108],[74.9,88],[75.8,80],[77,90],[78.2,108],[96.2,108],[97,-3],[133,-3]];
const r3c2BA: Pts = [[0,-3],[25.5,-3],[27,108],[40.3,108],[41.4,-3],[51.6,-3],[52.4,108],[73.6,108],[74.8,80],[75.9,66],[77,85],[78.3,108],[95.9,108],[96.7,-3],[133,-3]];
const r3c3DE: Pts = [[0,-3],[21,-3],[22.9,108],[41.3,108],[42.9,-3],[55.9,-3],[57.5,108],[82.3,108],[83.5,-3],[95.5,-3],[97.1,108],[108.5,108],[109.6,-3],[133,-3]];
const r3c3FE: Pts = [[0,-3],[20.8,-3],[22.7,108],[41.5,108],[43.1,-3],[55.7,-3],[57.3,108],[82.5,108],[83.7,-3],[95.3,-3],[96.9,108],[108.7,108],[109.8,-3],[133,-3]];
const r3c3BA: Pts = [[0,-3],[21.1,-3],[23,108],[41.2,108],[42.8,-3],[56,-3],[57.6,108],[82.2,108],[83.4,-3],[95.6,-3],[97.2,108],[108.4,108],[109.5,-3],[133,-3]];
const r3c4DE: Pts = [[0,-3],[35.4,-3],[37,108],[56.6,108],[58.8,-3],[64.6,-3],[66.9,108],[103,108],[103.8,-3],[133,-3]];
const r3c4FE: Pts = [[0,-3],[35.2,-3],[36.8,108],[56.8,108],[59,-3],[63.8,-3],[66.5,108],[103.2,108],[104,-3],[133,-3]];
const r3c4BA: Pts = [[0,-3],[35.5,-3],[37.1,108],[56.5,108],[58.7,-3],[64.2,-3],[66.7,108],[102.9,108],[103.7,-3],[133,-3]];
const r3c5DE: Pts = [[0,-3],[33.8,-3],[35.3,108],[52.2,108],[55.8,-3],[59.5,-3],[61.1,108],[78.7,108],[81.5,20],[82.9,2],[84.3,20],[86.7,108],[104,108],[105.1,-3],[133,-3]];
const r3c5FE: Pts = [[0,-3],[33.6,-3],[35.1,108],[52.4,108],[56,-3],[59.3,-3],[60.9,108],[78.9,108],[81.5,25],[82.9,7],[84.2,25],[86.5,108],[104.2,108],[105.3,-3],[133,-3]];
const r3c5BA: Pts = [[0,-3],[33.9,-3],[35.4,108],[52.1,108],[55.5,25],[57.6,3],[59.5,25],[61.2,108],[78.6,108],[81.3,15],[82.8,-3],[84.2,15],[86.8,108],[103.9,108],[105,-3],[133,-3]];
const r3c6DE: Pts = [[0,-3],[39.1,-3],[40.7,108],[61.8,108],[63.3,-3],[73.2,-3],[75.2,108],[100.5,108],[102.1,-3],[133,-3]];
const r3c6FE: Pts = [[0,-3],[38.9,-3],[40.5,108],[62,108],[63.5,-3],[72.9,-3],[74.9,108],[100.7,108],[102.3,-3],[133,-3]];
const r3c6BA: Pts = [[0,-3],[39.2,-3],[40.8,108],[61.7,108],[63.2,-3],[73.3,-3],[75.3,108],[100.4,108],[102,-3],[133,-3]];
const r3c7DE: Pts = [[0,-3],[19.2,-3],[20.7,108],[34.5,108],[35.7,-3],[46.4,-3],[48.4,108],[69.8,108],[71.4,-3],[80.2,-3],[82.1,108],[101.7,108],[103.3,-3],[133,-3]];
const r3c7FE: Pts = [[0,-3],[19,-3],[20.5,108],[34.7,108],[35.9,-3],[46.2,-3],[48.2,108],[70,108],[71.6,-3],[80,-3],[81.9,108],[101.9,108],[103.5,-3],[133,-3]];
const r3c7BA: Pts = [[0,-3],[19.3,-3],[20.8,108],[34.4,108],[35.6,-3],[46.5,-3],[48.5,108],[69.7,108],[71.3,-3],[80.3,-3],[82.2,108],[101.6,108],[103.2,-3],[133,-3]];

// ---------------- Row 5 (CLU) ----------------
const r4c0DE: Pts = [[0,-3],[31.4,-3],[32.5,40],[34.5,108],[57,108],[58.2,-3],[65.8,-3],[67.8,108],[106.5,108],[107.7,-3],[133,-3]];
const r4c0FE: Pts = [[0,-3],[31.2,-3],[32.3,45],[34.3,108],[57.2,108],[59.7,-3],[66.6,-3],[67.6,108],[106.7,108],[107.9,-3],[133,-3]];
const r4c0BA: Pts = [[0,-3],[31.5,-3],[32.6,42],[34.6,108],[57.1,108],[59.5,-3],[65.1,-3],[67.9,108],[106.4,108],[107.6,-3],[133,-3]];
const r4c1DE: Pts = [[0,-3],[28.7,-3],[30.2,108],[49.4,108],[50.5,60],[51.3,31.5],[52.2,55],[53.6,108],[77.8,108],[79.3,-3],[89,-3],[90.5,108],[103.2,108],[104.3,-3],[133,-3]];
const r4c1FE: Pts = [[0,-3],[28.5,-3],[30,108],[49.6,108],[50.8,70],[51.7,55],[52.6,68],[53.8,108],[78,108],[79.5,-3],[88.8,-3],[90.3,108],[103.4,108],[104.5,-3],[133,-3]];
const r4c1BA: Pts = [[0,-3],[28.8,-3],[30.3,108],[49.5,108],[50.7,72],[51.6,56],[52.5,70],[53.7,108],[77.7,108],[79.2,-3],[89.1,-3],[90.6,108],[103.1,108],[104.2,-3],[133,-3]];
const r4c2DE: Pts = [[0,-3],[30,-3],[31.9,108],[50.7,108],[52.3,-3],[60.4,-3],[62.6,108],[81.9,108],[83.2,60],[84.2,31.5],[85.3,55],[86.8,108],[104,108],[105.2,-3],[133,-3]];
const r4c2FE: Pts = [[0,-3],[29.8,-3],[31.7,108],[50.9,108],[52.5,-3],[60.2,-3],[62.4,108],[82.1,108],[83.3,78],[84.3,63],[85.4,75],[86.6,108],[104.2,108],[105.4,-3],[133,-3]];
const r4c2BA: Pts = [[0,-3],[30.1,-3],[32,108],[50.6,108],[52.2,-3],[60.5,-3],[62.7,108],[82,108],[83.2,76],[84.2,62],[85.3,74],[86.7,108],[103.9,108],[105.1,-3],[133,-3]];
const r4c3DE: Pts = [[0,-3],[28.3,-3],[29.8,108],[54.8,108],[56.3,-3],[66.6,-3],[68.6,108],[93.2,108],[95.1,-3],[133,-3]];
const r4c3FE: Pts = [[0,-3],[28.1,-3],[29.6,108],[55,108],[56.5,-3],[66.4,-3],[68.4,108],[93.4,108],[95.3,-3],[133,-3]];
const r4c3BA: Pts = [[0,-3],[28.4,-3],[29.9,108],[54.7,108],[56.2,-3],[66.7,-3],[68.7,108],[93.1,108],[95,-3],[133,-3]];
const r4c4DE: Pts = [[0,-3],[46.9,-3],[48.1,108],[74.6,108],[77,75],[79.5,45],[81.5,33],[83.2,45],[84.8,80],[86.1,108],[113,108],[114.2,-3],[133,-3]];
const r4c4FE: Pts = [[0,-3],[46.7,-3],[47.9,108],[74.8,108],[77.5,65],[80,25],[81.5,9],[82.8,20],[84.5,70],[85.8,108],[113.2,108],[114.4,-3],[133,-3]];
const r4c4BA: Pts = [[0,-3],[47,-3],[48.2,108],[74.5,108],[77.2,65],[79.8,22],[81.6,7.6],[83,20],[84.7,72],[86,108],[112.9,108],[114.1,-3],[133,-3]];
const r4c5DE: Pts = [[0,-3],[19.2,-3],[20.7,108],[23.8,108],[25,-3],[43,-3],[43.7,108],[87.5,108],[89.4,-3],[98.2,-3],[100.9,108],[109.4,108],[110.1,-3],[133,-3]];
const r4c5FE: Pts = [[0,-3],[19,-3],[20.5,108],[24,108],[25.2,-3],[42.8,-3],[43.5,108],[87.7,108],[89.6,-3],[98,-3],[100.7,108],[109.6,108],[110.3,-3],[133,-3]];
const r4c5BA: Pts = [[0,-3],[19.3,-3],[20.8,108],[23.7,108],[24.9,-3],[43.1,-3],[43.8,108],[87.4,108],[89.3,-3],[98.3,-3],[101,108],[109.3,108],[110,-3],[133,-3]];
const r4c6DE: Pts = [[0,-3],[16.5,-3],[17.7,108],[34.9,108],[36.1,-3],[53.3,-3],[54.5,108],[73.3,108],[74.4,-3],[84.7,-3],[86.5,25],[88,55],[89.7,108],[109.4,108],[110.5,-3],[133,-3]];
const r4c6FE: Pts = [[0,-3],[16.3,-3],[17.5,108],[35.1,108],[36.3,-3],[53.1,-3],[54.3,108],[73.5,108],[74.6,-3],[85.2,-3],[86.8,30],[88.2,60],[89.5,108],[109.6,108],[110.7,-3],[133,-3]];
const r4c6BA: Pts = [[0,-3],[16.6,-3],[17.8,108],[34.8,108],[36,-3],[53.4,-3],[54.6,108],[73.2,108],[74.3,-3],[84.9,-3],[86.6,28],[88.1,58],[89.8,108],[109.3,108],[110.4,-3],[133,-3]];
const r4c7DE: Pts = [[0,-3],[28.8,-3],[30.3,108],[48.3,108],[50,45],[51.5,12],[52.2,4.5],[53.2,15],[54.8,60],[56,108],[81.4,108],[82.5,-3],[96.3,-3],[97.5,108],[107.4,108],[109,-3],[133,-3]];
const r4c7FE: Pts = [[0,-3],[28.6,-3],[30.1,108],[48.5,108],[50,60],[51.4,30],[52,26.8],[53,35],[54.5,70],[55.8,108],[81.6,108],[82.7,-3],[96.1,-3],[97.3,108],[107.6,108],[109.2,-3],[133,-3]];
const r4c7BA: Pts = [[0,-3],[28.9,-3],[30.4,108],[48.2,108],[49.8,55],[51.3,25],[52,20],[53,30],[54.6,65],[55.9,108],[81.3,108],[82.4,-3],[96.4,-3],[97.6,108],[107.3,108],[108.9,-3],[133,-3]];

const rowTitles = [topTitles, walTitles, runTitles, cldTitles, cluTitles];
const deRows: Pts[][] = [
  [r0c0DE, r0c1DE, r0c2DE, r0c3DE, r0c4DE, r0c5DE, r0c6DE, r0c7DE],
  [r1c0DE, r1c1DE, r1c2DE, r1c3DE, r1c4DE, r1c5DE, r1c6DE, r1c7DE],
  [r2c0DE, r2c1DE, r2c2DE, r2c3DE, r2c4DE, r2c5DE, r2c6DE, r2c7DE],
  [r3c0DE, r3c1DE, r3c2DE, r3c3DE, r3c4DE, r3c5DE, r3c6DE, r3c7DE],
  [r4c0DE, r4c1DE, r4c2DE, r4c3DE, r4c4DE, r4c5DE, r4c6DE, r4c7DE],
];
const feRows: Pts[][] = [
  [r0c0FE, r0c1FE, r0c2FE, r0c3FE, r0c4FE, r0c5FE, r0c6FE, r0c7FE],
  [r1c0FE, r1c1FE, r1c2FE, r1c3FE, r1c4FE, r1c5FE, r1c6FE, r1c7FE],
  [r2c0FE, r2c1FE, r2c2FE, r2c3FE, r2c4FE, r2c5FE, r2c6FE, r2c7FE],
  [r3c0FE, r3c1FE, r3c2FE, r3c3FE, r3c4FE, r3c5FE, r3c6FE, r3c7FE],
  [r4c0FE, r4c1FE, r4c2FE, r4c3FE, r4c4FE, r4c5FE, r4c6FE, r4c7FE],
];
const baRows: Pts[][] = [
  [r0c0BA, r0c1BA, r0c2BA, r0c3BA, r0c4BA, r0c5BA, r0c6BA, r0c7BA],
  [r1c0BA, r1c1BA, r1c2BA, r1c3BA, r1c4BA, r1c5BA, r1c6BA, r1c7BA],
  [r2c0BA, r2c1BA, r2c2BA, r2c3BA, r2c4BA, r2c5BA, r2c6BA, r2c7BA],
  [r3c0BA, r3c1BA, r3c2BA, r3c3BA, r3c4BA, r3c5BA, r3c6BA, r3c7BA],
  [r4c0BA, r4c1BA, r4c2BA, r4c3BA, r4c4BA, r4c5BA, r4c6BA, r4c7BA],
];

// layout (pixels)
const CANVAS_W = 499;
const CANVAS_H = 247;
const PAD_L = 30;
const PAD_R = 26;
const PAD_T = 37;
const COL_STEP = 499.4;
const COL_X0 = 3;
const ROW_STEP = 247;

const decorPlugin = {
  id: "decor",
  afterDatasetsDraw(chart: any, _args: any, opts: any) {
    const { ctx, chartArea } = chart;
    const cx = (chartArea.left + chartArea.right) / 2;
    ctx.save();
    ctx.fillStyle = "#000000";
    ctx.font = '16.7px "DejaVu Sans"';
    ctx.textAlign = "center";
    ctx.textBaseline = "alphabetic";
    ctx.fillText(opts.title, cx, chartArea.top - 8.3);
    if (opts.legend) {
      const w = 69;
      const h = 67;
      const x = opts.legendCenter ? cx - w / 2 : chartArea.left + opts.legendOffset;
      const y = chartArea.bottom - 7 - h;
      const r = 2.8;
      ctx.beginPath();
      ctx.moveTo(x + r, y);
      ctx.lineTo(x + w - r, y);
      ctx.quadraticCurveTo(x + w, y, x + w, y + r);
      ctx.lineTo(x + w, y + h - r);
      ctx.quadraticCurveTo(x + w, y + h, x + w - r, y + h);
      ctx.lineTo(x + r, y + h);
      ctx.quadraticCurveTo(x, y + h, x, y + h - r);
      ctx.lineTo(x, y + r);
      ctx.quadraticCurveTo(x, y, x + r, y);
      ctx.closePath();
      ctx.fillStyle = "rgba(255,255,255,0.8)";
      ctx.fill();
      ctx.strokeStyle = "rgba(204,204,204,0.8)";
      ctx.lineWidth = 1;
      ctx.stroke();
      chart.data.datasets.forEach((ds: any, i: number) => {
        const ry = y + 13 + i * 21;
        ctx.strokeStyle = ds.borderColor;
        ctx.lineWidth = 1.2;
        ctx.beginPath();
        ctx.moveTo(x + 6, ry);
        ctx.lineTo(x + 33, ry);
        ctx.stroke();
        ctx.fillStyle = "#000000";
        ctx.font = '13.9px "DejaVu Sans"';
        ctx.textAlign = "left";
        ctx.textBaseline = "middle";
        ctx.fillText(ds.label, x + 45, ry + 0.5);
      });
    }
    ctx.restore();
  },
};

type PanelProps = {
  title: string;
  series: Pts[];
  legend: boolean;
  legendCenter: boolean;
  legendOffset: number;
  left: number;
  top: number;
};

function Panel({ title, series, legend, legendCenter, legendOffset, left, top }: PanelProps) {
  const ref = useRef<HTMLCanvasElement | null>(null);
  useEffect(() => {
    if (!ref.current) return;
    const chart = new Chart(ref.current, {
      type: "line",
      data: {
        datasets: series.map((pts, i) => ({
          label: seriesNames[i],
          data: pts.map(([x, y]) => ({ x, y })),
          borderColor: seriesColors[i],
          backgroundColor: seriesColors[i],
          borderWidth: 1.0,
          pointRadius: 0,
          tension: 0,
          fill: false,
          order: 3 - i,
        })),
      },
      options: {
        animation: false,
        responsive: false,
        maintainAspectRatio: false,
        events: [],
        layout: { padding: { left: PAD_L, right: PAD_R, top: PAD_T, bottom: 0 } },
        scales: {
          x: { type: "linear", min: X_MIN, max: X_MAX, display: false },
          y: { type: "linear", min: Y_MIN, max: Y_MAX, display: false },
        },
        plugins: {
          legend: { display: false },
          title: { display: false },
          tooltip: { enabled: false },
          decor: { title, legend, legendCenter, legendOffset },
        } as any,
      },
      plugins: [decorPlugin],
    } as any);
    return () => chart.destroy();
  }, [title, series, legend, legendCenter, legendOffset]);
  return (
    <canvas
      ref={ref}
      width={CANVAS_W}
      height={CANVAS_H}
      style={{ position: "absolute", left, top, width: CANVAS_W, height: CANVAS_H }}
    />
  );
}

export default function App() {
  const panels: React.ReactNode[] = [];
  for (let r = 0; r < 5; r++) {
    for (let c = 0; c < 8; c++) {
      panels.push(
        <Panel
          key={`${r}-${c}`}
          title={rowTitles[r][c]}
          series={[deRows[r][c], feRows[r][c], baRows[r][c]]}
          legend={r === 0}
          legendCenter={r === 0 && c === 2}
          legendOffset={c === 0 ? -11 : -14.5}
          left={Math.round(COL_X0 + c * COL_STEP)}
          top={r * ROW_STEP}
        />
      );
    }
  }
  return (
    <div style={{ position: "absolute", left: 0, top: 0, width: 4000, height: 1250, background: "#ffffff", overflow: "hidden" }}>
      {panels}
    </div>
  );
}
